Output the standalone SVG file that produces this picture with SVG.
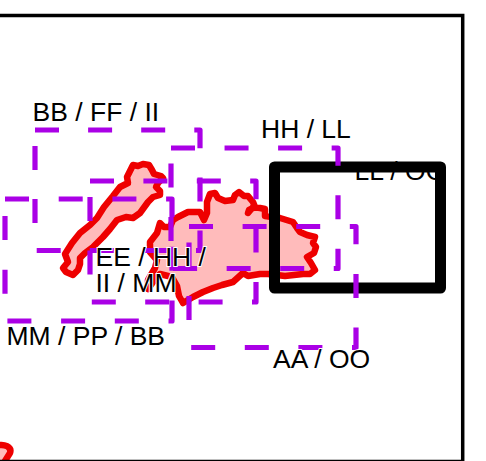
<svg xmlns="http://www.w3.org/2000/svg" width="486" height="461" viewBox="0 0 486 461">
<style>
.red{fill:#ffbbbb;stroke:#ee0000;stroke-width:6.5;stroke-linejoin:round}
.dash{fill:none;stroke:#aa00e6;stroke-width:5.2;stroke-linejoin:round}
.box{fill:none;stroke:#000;stroke-width:11;stroke-linejoin:round}
text{font-family:"Liberation Sans",Arial,sans-serif;font-size:26.5px;fill:#000;stroke:#fff;stroke-width:2;paint-order:stroke}
</style>
<rect width="486" height="461" fill="#fff"/>
<g id="regions">
<path class="red" d="M143 164L149 165L152 170L154 174L161 176L163 178L158 183L156 187L160 191L160 195L153 197L148 202L140 213L133 218L126 217L117 220L110 229L103 237L93 247L85 253L80 258L80 264L78 270L73 275L66 272L63 268L68 262L65 254L72 243L80 233L90 225L97 218L104 207L113 196L120 187L128 183L127 177L130 171L133 165L138 166Z"/>
<path class="red" d="M160 223L164 227L170 227L173 220L178 217L188 212L200 212L204 220L207 213L207 202L210 194L215 193L218 198L225 201L233 200L235 195L239 192L244 196L248 196L253 202L255 207L249 210L248 213L253 207L260 208L265 209L265 216L272 217L280 218L293 222L297 228L300 232L307 235L315 237L313 243L316 247L314 253L307 257L311 263L315 270L310 274L303 274L285 276L268 274L260 274L248 276L243 273L233 282L222 285L213 288L203 292L193 297L183 303L179 296L177 286L172 277L160 274L153 282L148 289L148 280L155 268L157 260L150 252L150 242L157 233Z"/>
<path class="red" d="M-5 446C5 443 12 447 10 453L5 461L3 470H-5Z"/>
</g>
<text x="354.500" y="180">LL / OO</text>
<path id="frame" d="M-5 15.5H462.7V461.5H-5" fill="none" stroke="#000" stroke-width="3.5"/>
<g id="node-ll-oo"><rect class="box" x="274.5" y="167" width="166" height="121"/></g>
<g id="connectors"></g>
<g id="node-bb-ff-ii"><rect class="dash" stroke-dasharray="24 29.1" x="35" y="130" width="165" height="120.5"/></g>
<g id="node-ee-hh-ii-mm"><rect class="dash" stroke-dasharray="24 29.4" x="90" y="181" width="166" height="121"/></g>
<g id="node-hh-ll"><rect class="dash" stroke-dasharray="24 29.55" x="171" y="148" width="167" height="120.5"/></g>
<g id="node-mm-pp-bb"><rect class="dash" stroke-dasharray="24 29.7" x="5" y="199" width="167" height="122"/></g>
<g id="node-aa-oo"><rect class="dash" stroke-dasharray="24 29.6" x="189" y="226.5" width="167" height="121"/></g>
<text x="32.500" y="121">BB / FF / II</text>
<text x="261" y="138">HH / LL</text>
<text x="95.500" y="266">EE / HH /</text>
<text x="95.500" y="292">II / MM</text>
<text x="6.500" y="345">MM / PP / BB</text>
<text x="273" y="368">AA / OO</text>
</svg>
